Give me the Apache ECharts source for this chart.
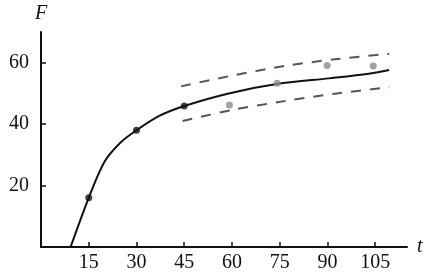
<!DOCTYPE html>
<html>
<head>
<meta charset="utf-8">
<script src="https://cdn.jsdelivr.net/npm/echarts@6/dist/echarts.min.js"></script>
<style>html,body{margin:0;padding:0;background:#fff}#c{width:430px;height:276px}</style>
</head>
<body>
<div id="c"></div>
<script>
// Fitted curve
const curveT = [9.3, 15, 20, 25, 30, 37, 45, 59, 75, 90.5, 103, 109.4];
const curveF = [0, 16, 27.8, 34, 38, 42.6, 45.9, 50, 53.2, 54.9, 56.4, 57.6];
// Observed points on the curve (black)
const blackT = [15, 30, 45];
const blackF = [16, 38, 45.9];
// Later observations (grey)
const greyT = [59.2, 74.2, 89.9, 104.4];
const greyF = [46.2, 53.3, 59.1, 58.9];
// Upper and lower dashed bands
const upperT = [44, 60, 77, 93, 109.4];
const upperF = [52.3, 55.8, 59, 61.2, 62.9];
const lowerT = [44.5, 60, 77, 93, 109.4];
const lowerF = [41, 44.6, 47.6, 50, 52];
// Tick labels
const xTicks = [15, 30, 45, 60, 75, 90, 105];
const yTicks = [20, 40, 60];

const zip = (a, b) => a.map((v, i) => [v, b[i]]);
const font = 'Liberation Serif';

const chart = echarts.init(document.getElementById('c'), null, {renderer: 'canvas'});
chart.setOption({
  animation: false,
  backgroundColor: '#fff',
  grid: {left: 41, right: 23, top: 32, bottom: 29},
  xAxis: {
    type: 'value', min: 0, max: 115,
    name: 't', nameLocation: 'end', nameGap: 10,
    nameTextStyle: {fontFamily: font, fontStyle: 'italic', fontSize: 20, color: '#111', verticalAlign: 'middle'},
    axisLine: {show: true, lineStyle: {color: '#111', width: 2}},
    axisTick: {show: true, inside: true, length: 5, customValues: xTicks, lineStyle: {color: '#111', width: 1.5}},
    axisLabel: {customValues: xTicks, fontFamily: font, fontSize: 20, color: '#111', margin: 6},
    splitLine: {show: false}
  },
  yAxis: {
    type: 'value', min: 0, max: 70,
    name: 'F', nameLocation: 'end', nameGap: 8,
    nameTextStyle: {fontFamily: font, fontStyle: 'italic', fontSize: 20, color: '#111', align: 'center'},
    axisLine: {show: true, lineStyle: {color: '#111', width: 2}},
    axisTick: {show: true, inside: true, length: 5, customValues: yTicks, lineStyle: {color: '#111', width: 1.5}},
    axisLabel: {customValues: yTicks, fontFamily: font, fontSize: 20, color: '#111', margin: 12},
    splitLine: {show: false}
  },
  series: [
    {type: 'line', data: zip(curveT, curveF), smooth: 0.3, showSymbol: false,
     lineStyle: {color: '#111', width: 2}, z: 3},
    {type: 'line', data: zip(upperT, upperF), smooth: 0.3, showSymbol: false,
     lineStyle: {color: '#555', width: 2, type: [10, 9]}},
    {type: 'line', data: zip(lowerT, lowerF), smooth: 0.3, showSymbol: false,
     lineStyle: {color: '#555', width: 2, type: [10, 9]}},
    {type: 'scatter', data: zip(blackT, blackF), symbolSize: 7, itemStyle: {color: '#111'}, z: 4},
    {type: 'scatter', data: zip(greyT, greyF), symbolSize: 7, itemStyle: {color: '#8a8a8a'}, z: 4}
  ]
});
</script>
</body>
</html>
